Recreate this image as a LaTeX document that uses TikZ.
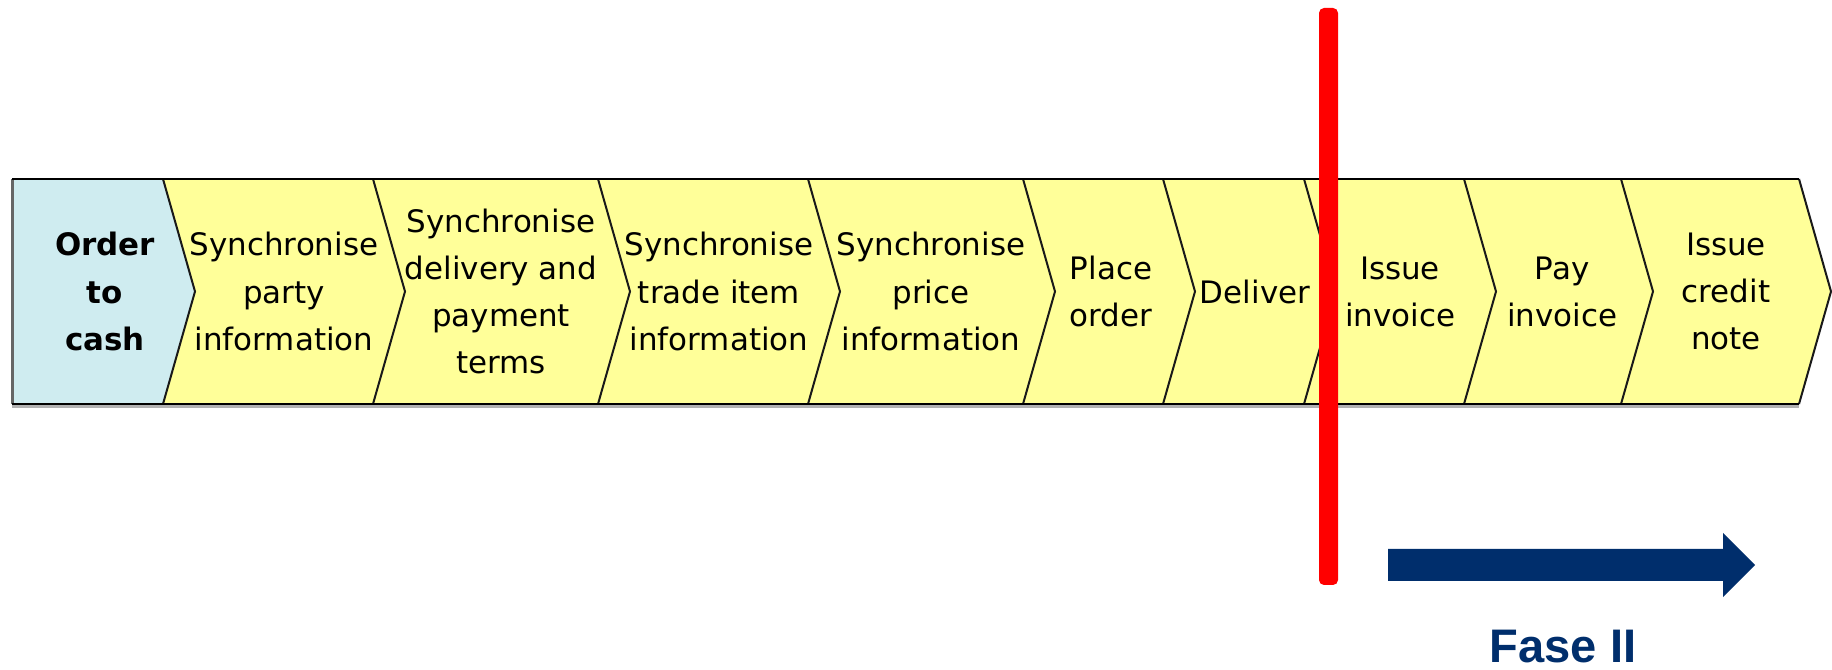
\documentclass[tikz,border=0pt]{standalone}
\usepackage{fontspec}
\setmainfont{DejaVu Sans}
\newfontfamily\fasefont{Liberation Sans}
\usetikzlibrary{positioning}
\definecolor{stageyellow}{RGB}{255,255,153}
\definecolor{startblue}{RGB}{207,236,240}
\definecolor{fasenavy}{RGB}{0,46,108}
\tikzstyle{stagetext} = [align=center, inner sep=0pt, font=\fontsize{8.8}{13.4}\selectfont]
\tikzstyle{edge} = [line width=0.2mm, black!90]
\tikzstyle{rim} = [line width=0.25mm, black]
\tikzstyle{cutline} = [fill=red, rounded corners=0.5mm]

\begin{document}
\begin{tikzpicture}[x=0.1mm, y=-0.1mm]
    \useasboundingbox (0,0) rectangle (1832,670);

    % shadow and stages
    \fill[black!30] (12,404) rectangle (1799,408);
    \fill[startblue] (12,179) -- (163,179) -- (195,291.5) -- (163,404) -- (12,404) -- cycle;
    \foreach \a/\b in {163/373, 373/598, 598/808, 808/1023, 1023/1163, 1163/1304, 1304/1464, 1464/1621, 1621/1799}
        \fill[stageyellow] (\a,179) -- (\b,179) -- ({\b+32},291.5) -- (\b,404) -- (\a,404) -- ({\a+32},291.5) -- cycle;
    \foreach \b in {163, 373, 598, 808, 1023, 1163, 1304, 1464, 1621, 1799}
        \draw[edge] (\b,179) -- ({\b+32},291.5) -- (\b,404);
    \draw[rim, black!60, line width=0.3mm] (12,404) -- (12,179);
    \draw[rim] (12,179) -- (1799,179);
    \draw[rim] (12,404) -- (1799,404);

    \node (otc) [stagetext, font=\fontsize{8.8}{13.4}\selectfont\bfseries] at (105,291.5) {Order\\to\\cash};
    \node (party) [stagetext] at (284,291.5) {Synchronise\\party\\information};
    \node (terms) [stagetext] at (501,291.5) {Synchronise\\delivery and\\payment\\terms};
    \node (item) [stagetext] at (719,291.5) {Synchronise\\trade item\\information};
    \node (price) [stagetext] at (931,291.5) {Synchronise\\price\\information};
    \node (order) [stagetext] at (1111,291.5) {Place\\order};
    \node (deliver) [stagetext] at (1255,291.5) {Deliver};
    \node (issue) [stagetext] at (1400,291.5) {Issue\\invoice};
    \node (pay) [stagetext] at (1562,291.5) {Pay\\invoice};
    \node (credit) [stagetext] at (1726,291.5) {Issue\\credit\\note};

    % phase marker
    \fill[cutline] (1319,8) rectangle (1338,585);
    \fill[fasenavy] (1388,549) -- (1723,549) -- (1723,533) -- (1755,565) -- (1723,597) -- (1723,581) -- (1388,581) -- cycle;
    \node (fase) [anchor=base, inner sep=0pt, text=fasenavy, font=\fasefont\bfseries\fontsize{13.4}{16}\selectfont] at (1563,663) {Fase II};
\end{tikzpicture}
\end{document}
